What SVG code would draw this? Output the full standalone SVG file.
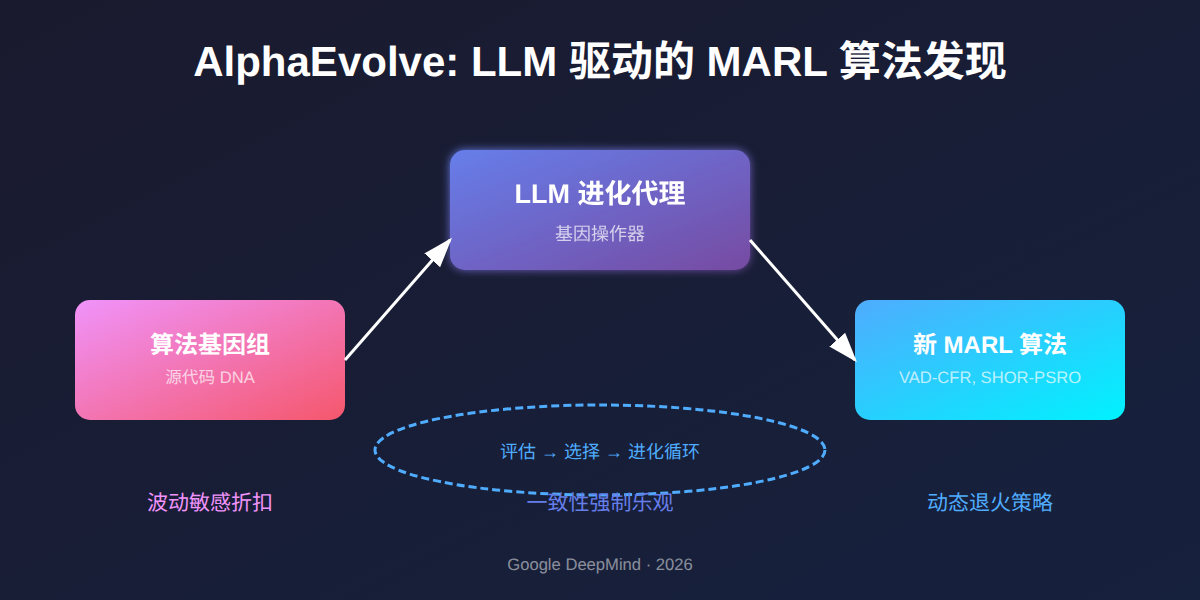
<svg xmlns="http://www.w3.org/2000/svg" width="1200" height="600" viewBox="0 0 1200 600">
<defs>
<linearGradient id="bg" x1="0" y1="0" x2="1" y2="1"><stop offset="0" stop-color="#1a1a2e"/><stop offset="1" stop-color="#16213e"/></linearGradient>
<linearGradient id="g1" x1="0" y1="0" x2="1" y2="1"><stop offset="0" stop-color="#f093fb"/><stop offset="1" stop-color="#f5576c"/></linearGradient>
<linearGradient id="g2" x1="0" y1="0" x2="1" y2="1"><stop offset="0" stop-color="#667eea"/><stop offset="1" stop-color="#764ba2"/></linearGradient>
<linearGradient id="g3" x1="0" y1="0" x2="1" y2="1"><stop offset="0" stop-color="#4facfe"/><stop offset="1" stop-color="#00f2fe"/></linearGradient>
<filter id="glow" x="-20%" y="-20%" width="140%" height="140%"><feGaussianBlur stdDeviation="4" result="b"/><feMerge><feMergeNode in="b"/><feMergeNode in="SourceGraphic"/></feMerge></filter>
<marker id="arrow" markerWidth="10" markerHeight="7" refX="9" refY="3.5" orient="auto"><polygon points="0 0, 10 3.5, 0 7" fill="#fff"/></marker>
<style>
text{font-family:"Liberation Sans","Noto Sans CJK SC",sans-serif;text-anchor:middle;text-rendering:geometricPrecision}
.t{fill:#fff;font-weight:700}
.s{fill:rgba(255,255,255,.7)}
.c{stroke:#fff;stroke-width:3;fill:none;marker-end:url(#arrow)}
.l{font-size:21px}
</style>
</defs>
<rect width="1200" height="600" fill="url(#bg)"/>
<text x="600" y="76" class="t" font-size="42" id="title">AlphaEvolve: LLM 驱动的 MARL 算法发现</text>
<g id="node-genome">
<rect x="75" y="300" width="270" height="120" rx="15" fill="url(#g1)"/>
<text x="210" y="353" class="t" font-size="24">算法基因组</text>
<text x="210" y="383" class="s" font-size="16.6">源代码 DNA</text>
</g>
<g id="node-llm" filter="url(#glow)">
<rect x="450" y="150" width="300" height="120" rx="15" fill="url(#g2)"/>
<text x="600" y="203" class="t" font-size="27">LLM 进化代理</text>
<text x="600" y="240" class="s" font-size="18">基因操作器</text>
</g>
<g id="node-new">
<rect x="855" y="300" width="270" height="120" rx="15" fill="url(#g3)"/>
<text x="990" y="353" class="t" font-size="24">新 MARL 算法</text>
<text x="990" y="383" class="s" font-size="16.6">VAD-CFR, SHOR-PSRO</text>
</g>
<g id="connectors">
<line class="c" x1="345" y1="360" x2="450" y2="240"/>
<line class="c" x1="750" y1="240" x2="855" y2="360"/>
</g>
<g id="loop">
<ellipse cx="600" cy="450" rx="225" ry="45" fill="none" stroke="#4facfe" stroke-width="3" stroke-dasharray="8 4"/>
<text x="600" y="458" font-size="18" fill="#4facfe">评估 → 选择 → 进化循环</text>
</g>
<text x="210" y="510" class="l" fill="#f093fb">波动敏感折扣</text>
<text x="600" y="510" class="l" fill="#667eea">一致性强制乐观</text>
<text x="990" y="510" class="l" fill="#4facfe">动态退火策略</text>
<text x="600" y="570" font-size="16.6" fill="rgba(255,255,255,.5)">Google DeepMind · 2026</text>
</svg>
